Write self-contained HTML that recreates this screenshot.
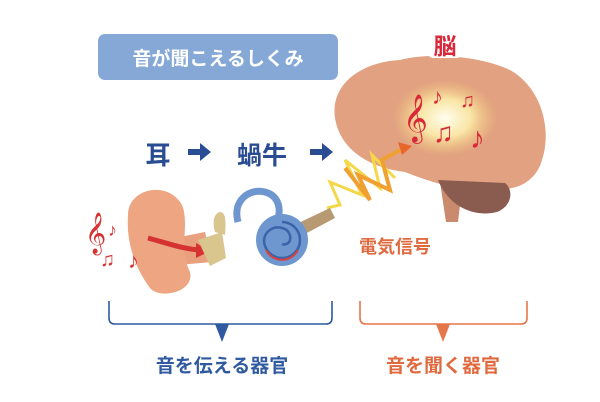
<!DOCTYPE html>
<html><head><meta charset="utf-8"><style>
html,body{margin:0;padding:0;background:#fff;}
svg{display:block;font-family:"Liberation Sans","Noto Sans CJK JP",sans-serif;}
</style></head><body>
<svg width="600" height="402" viewBox="0 0 600 402">
<defs>
<radialGradient id="g" cx="50%" cy="50%" r="50%">
<stop offset="0" stop-color="#fffef0"/><stop offset="0.5" stop-color="#fff6b0" stop-opacity="0.8"/><stop offset="1" stop-color="#f5d070" stop-opacity="0"/>
</radialGradient>
</defs>
<rect x="98" y="34" width="240" height="46" rx="7" fill="#86a8d6"/>
<text x="218" y="65" font-size="19" fill="#fff" text-anchor="middle" font-weight="bold">音が聞こえるしくみ</text>

<text x="158" y="164" font-size="25" fill="#2a4c92" font-weight="bold" text-anchor="middle">耳</text>
<path d="M188 149h12v-6l11 9-11 9v-6h-12z" fill="#2a4c92"/>
<text x="262" y="164" font-size="25" fill="#2a4c92" font-weight="bold" text-anchor="middle">蝸牛</text>
<path d="M310 149h12v-6l11 9-11 9v-6h-12z" fill="#2a4c92"/>

<!-- brain -->
<path d="M440 182 L446 222 L458 222 L462 188Z" fill="#c98a6e"/>
<path d="M335 118 C330 85 360 62 400 60 C430 52 480 56 510 70 C542 88 552 130 542 160 C536 182 515 192 495 188 L470 190 C450 188 425 180 405 172 C370 168 340 150 335 118Z" fill="#e2a282"/>
<path d="M438 180 C448 205 472 218 497 212 C512 206 514 190 505 183 Z" fill="#8a5c50"/>
<ellipse cx="445" cy="118" rx="52" ry="38" fill="url(#g)"/>
<text x="403" y="132" font-size="42" fill="#d8283a">𝄞</text>
<text x="432" y="104" font-size="22" fill="#d8283a">♪</text>
<text x="460" y="107" font-size="20" fill="#d8283a">♫</text>
<text x="433" y="142" font-size="28" fill="#d8283a">♫</text>
<text x="470" y="148" font-size="30" fill="#d8283a">♪</text>
<rect x="428" y="30" width="34" height="28" rx="5" fill="#fff"/>
<text x="445" y="54" font-size="23" fill="#d8283a" font-weight="bold" text-anchor="middle">脳</text>

<!-- lightning -->
<path d="M327 208 L340 205 L330 182 L362 195 L345 160 L380 188 L372 155 L395 178" stroke="#f5d84a" stroke-width="3" fill="none"/>
<path d="M345 168 L370 200 L358 175 L390 190 L382 160 L400 150" stroke="#f0a030" stroke-width="4" fill="none"/>
<path d="M398 142 L412 146 L402 155Z" fill="#e9662a"/>

<text x="395" y="253" font-size="18" fill="#e06a40" font-weight="bold" text-anchor="middle">電気信号</text>

<!-- ear -->
<path d="M165 240 L205 232 L212 262 L178 265Z" fill="#e9a07e"/>
<path d="M128 215 C128 188 168 180 182 205 C190 225 178 248 190 272 C195 292 160 300 150 288 C135 268 126 242 128 215Z" fill="#eda582"/>
<path d="M148 238 C170 244 180 248 198 250" stroke="#d63232" stroke-width="5" fill="none"/>
<path d="M196 243 L210 251 L196 258Z" fill="#d63232"/>
<path d="M198 240 L222 232 L226 258 L210 266Z" fill="#d9c58e"/>
<path d="M215 232 C212 222 214 213 220 212 C226 212 226 222 225 235" fill="#d9c58e"/>
<text x="85" y="245" font-size="36" fill="#d63232">𝄞</text>
<text x="108" y="236" font-size="18" fill="#d63232">♪</text>
<text x="100" y="266" font-size="20" fill="#d63232">♫</text>
<text x="128" y="268" font-size="22" fill="#d63232">♪</text>

<!-- cochlea -->
<path d="M288 228 L330 208 L335 218 L290 242Z" fill="#b89a72"/>
<path d="M238 222 C232 200 250 188 265 192 C280 196 282 212 276 222" fill="none" stroke="#6e96cf" stroke-width="7"/>
<circle cx="282" cy="240" r="26" fill="#6e96cf"/>
<path d="M282 222 A18 18 0 1 1 264 240 A14 14 0 0 1 282 228 A10 10 0 0 1 290 240 A6 6 0 0 1 282 244" fill="none" stroke="#3b64a8" stroke-width="2.5"/>
<path d="M266 250 A18 18 0 0 0 298 250" fill="none" stroke="#d84040" stroke-width="2"/>

<!-- brackets -->
<path d="M109 301 V318 Q109 324 115 324 H326 Q332 324 332 318 V301" stroke="#2f5aa0" stroke-width="1.6" fill="none"/>
<path d="M215 324 L229 324 L222 342Z" fill="#2f5aa0"/>
<text x="222" y="372" font-size="19" fill="#2f5aa0" font-weight="bold" text-anchor="middle">音を伝える器官</text>
<path d="M360 301 V318 Q360 324 366 324 H521 Q527 324 527 318 V301" stroke="#e5764a" stroke-width="1.6" fill="none"/>
<path d="M436 324 L450 324 L443 342Z" fill="#e5764a"/>
<text x="443" y="372" font-size="19" fill="#e06a40" font-weight="bold" text-anchor="middle">音を聞く器官</text>
</svg>
</body></html>
